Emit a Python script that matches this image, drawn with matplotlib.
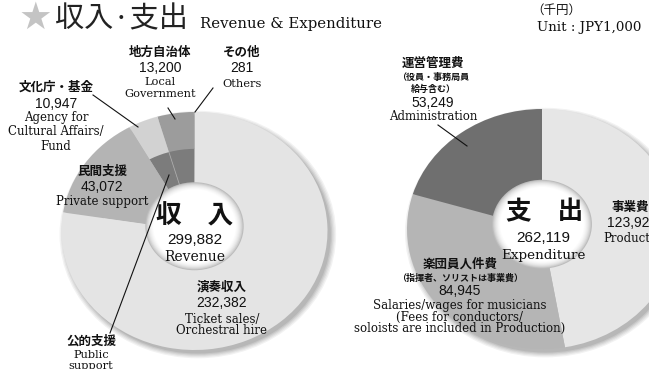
import matplotlib
matplotlib.use("Agg")
import numpy as np
import matplotlib.pyplot as plt
from matplotlib.patches import Ellipse

# ---- data (unit: JPY 1,000) ----
rev_labels = ["その他", "地方自治体", "文化庁・基金", "民間支援", "演奏収入"]
rev_values = [281, 13200, 10947, 43072, 232382]
rev_total = 299882
rev_colors = ["#4a4a4a", "#9c9c9c", "#d2d2d2", "#b4b4b4", "#e4e4e4"]
# inner band: public support = local government + agency
rev_inner_colors = ["#4a4a4a", "#7c7c7c", "#7c7c7c", "#b4b4b4", "#e4e4e4"]

exp_labels = ["事業費", "楽団員人件費", "運営管理費"]
exp_values = [123925, 84945, 53249]
exp_total = 262119
exp_colors = ["#e6e6e6", "#b5b5b5", "#6f6f6f"]

W, H = 649, 369
fig = plt.figure(figsize=(W / 100, H / 100), dpi=100)
fig.patch.set_facecolor("white")

JP = ["Noto Sans CJK JP", "DejaVu Sans"]
NUM = ["Liberation Sans", "DejaVu Sans"]
SER = ["DejaVu Serif"]

PAD = 1.15


def pie_axes(cx, cy, rx, ry):
    """Axes whose data range [-PAD, PAD] maps onto an ellipse of radii rx, ry px."""
    left = (cx - rx * PAD) / W
    bottom = (H - cy - ry * PAD) / H
    return fig.add_axes([left, bottom, 2 * rx * PAD / W, 2 * ry * PAD / H])


def decorate(ax):
    ax.set_aspect("auto")
    ax.set_xlim(-PAD, PAD)
    ax.set_ylim(-PAD, PAD)
    ax.axis("off")


def shadow(ax):
    for i, a in enumerate([0.05, 0.05, 0.06, 0.07, 0.08]):
        s = 1.04 - i * 0.01
        ax.add_patch(Ellipse((0.025, -0.03), 2 * s, 2 * s, facecolor="#000000",
                             edgecolor="none", alpha=a, zorder=0))


def hole(ax, r=0.37, dy=0.04):
    shades = ["#bdbdbd", "#cfcfcf", "#dcdcdc", "#e7e7e7", "#efefef", "#f6f6f6", "#fbfbfb", "#ffffff"]
    n = len(shades)
    for i, c in enumerate(shades):
        rr = r * (1 - 0.16 * i / (n - 1))
        ax.add_patch(Ellipse((0, dy), 2 * rr, 2 * rr, facecolor=c, edgecolor="none", zorder=5))


# ---- revenue pie ----
axr = pie_axes(194.5, 231, 133, 119)
shadow(axr)
axr.pie(rev_values, colors=rev_colors, startangle=90, counterclock=True, radius=1.0,
        wedgeprops=dict(linewidth=0))
axr.pie(rev_values, colors=rev_inner_colors, startangle=90, counterclock=True, radius=0.69,
        wedgeprops=dict(linewidth=0))
# faint divider between the two public-support sources inside the inner band
ang = np.deg2rad(90 + 360 * sum(rev_values[:2]) / sum(rev_values))
axr.plot([0.3 * np.cos(ang), 0.69 * np.cos(ang)], [0.3 * np.sin(ang), 0.69 * np.sin(ang)],
         color="#a9a9a9", lw=0.6, zorder=3)
hole(axr)
decorate(axr)

# ---- expenditure pie ----
axe = pie_axes(542, 229, 135, 120)
shadow(axe)
axe.pie(exp_values, colors=exp_colors, startangle=90, counterclock=False, radius=1.0,
        wedgeprops=dict(linewidth=0))
hole(axe)
decorate(axe)

# ---- overlay in pixel coordinates for text and leader lines ----
ov = fig.add_axes([0, 0, 1, 1], zorder=10)
ov.set_xlim(0, W)
ov.set_ylim(H, 0)
ov.axis("off")
ov.patch.set_alpha(0)


def t(x, y, s, fam, size, weight="normal", ha="center", color="#111111"):
    ov.text(x, y, s, family=fam, fontsize=size, fontweight=weight, ha=ha, va="center",
            color=color)


# title
t(19, 19, "★", ["DejaVu Sans"], 27, ha="left", color="#c4c4c4")
t(55, 19, "収入·支出", JP, 21, ha="left", color="#222222")
t(200, 24, "Revenue & Expenditure", SER, 10.7, ha="left")
t(531, 10, "（千円）", JP, 9, ha="left")
t(537, 28, "Unit : JPY1,000", SER, 9.6, ha="left")

# revenue labels
t(160, 52, "地方自治体", JP, 9, "bold")
t(160, 68, f"{rev_values[1]:,}", NUM, 10)
t(160, 82, "Local", SER, 8.2)
t(160, 94, "Government", SER, 8.2)

t(242, 52, "その他", JP, 9, "bold")
t(242, 68, f"{rev_values[0]:,}", NUM, 10)
t(242, 84, "Others", SER, 8.2)

t(56, 87, "文化庁・基金", JP, 9, "bold")
t(56, 104, f"{rev_values[2]:,}", NUM, 10)
t(56, 118, "Agency for", SER, 8.5)
t(56, 132, "Cultural Affairs/", SER, 8.5)
t(56, 146, "Fund", SER, 8.5)

t(102, 171, rev_labels[3], JP, 9, "bold")
t(102, 187, f"{rev_values[3]:,}", NUM, 10)
t(102, 202, "Private support", SER, 8.5)

t(195, 216, "収　入", JP, 18.5, "bold")
t(195, 240, f"{rev_total:,}", NUM, 11)
t(195, 257, "Revenue", SER, 10)

t(222, 287, rev_labels[4], JP, 9, "bold")
t(222, 303, f"{rev_values[4]:,}", NUM, 10)
t(222, 319, "Ticket sales/", SER, 8.5)
t(222, 331, "Orchestral hire", SER, 8.5)

t(91, 341, "公的支援", JP, 9, "bold")
t(91, 355, "Public", SER, 8.2)
t(91, 366, "support", SER, 8.2)

# leader lines
lines = [((93, 95), (138, 127)), ((168, 108), (175, 119)), ((213, 88), (195, 112)),
         ((169, 175), (110, 333)), ((438, 125), (467, 146))]
for (x0, y0), (x1, y1) in lines:
    ov.plot([x0, x1], [y0, y1], color="#111111", lw=0.8)

# expenditure labels
t(433, 63, exp_labels[2], JP, 9, "bold")
t(433, 77, "（役員・事務局員", JP, 6.5, "bold")
t(433, 89, "給与含む）", JP, 6.5, "bold")
t(433, 103, f"{exp_values[2]:,}", NUM, 10)
t(433, 117, "Administration", SER, 8.5)

t(545, 212, "支　出", JP, 18.5, "bold")
t(543, 238, f"{exp_total:,}", NUM, 11)
t(543, 256, "Expenditure", SER, 9.7)

t(460, 264, exp_labels[1], JP, 9, "bold")
t(460, 278, "（指揮者、ソリストは事業費）", JP, 6.5, "bold")
t(460, 291, f"{exp_values[1]:,}", NUM, 10)
t(460, 305, "Salaries/wages for musicians", SER, 8.5)
t(460, 317, "(Fees for conductors/", SER, 8.5)
t(460, 328.5, "soloists are included in Production)", SER, 8.5)

t(612, 207, exp_labels[0], JP, 9, "bold", ha="left")
t(607, 223, f"{exp_values[0]:,}", NUM, 10, ha="left")
t(603, 238, "Production", SER, 8.5, ha="left")

fig.savefig("out.png", dpi=100, facecolor="white")
